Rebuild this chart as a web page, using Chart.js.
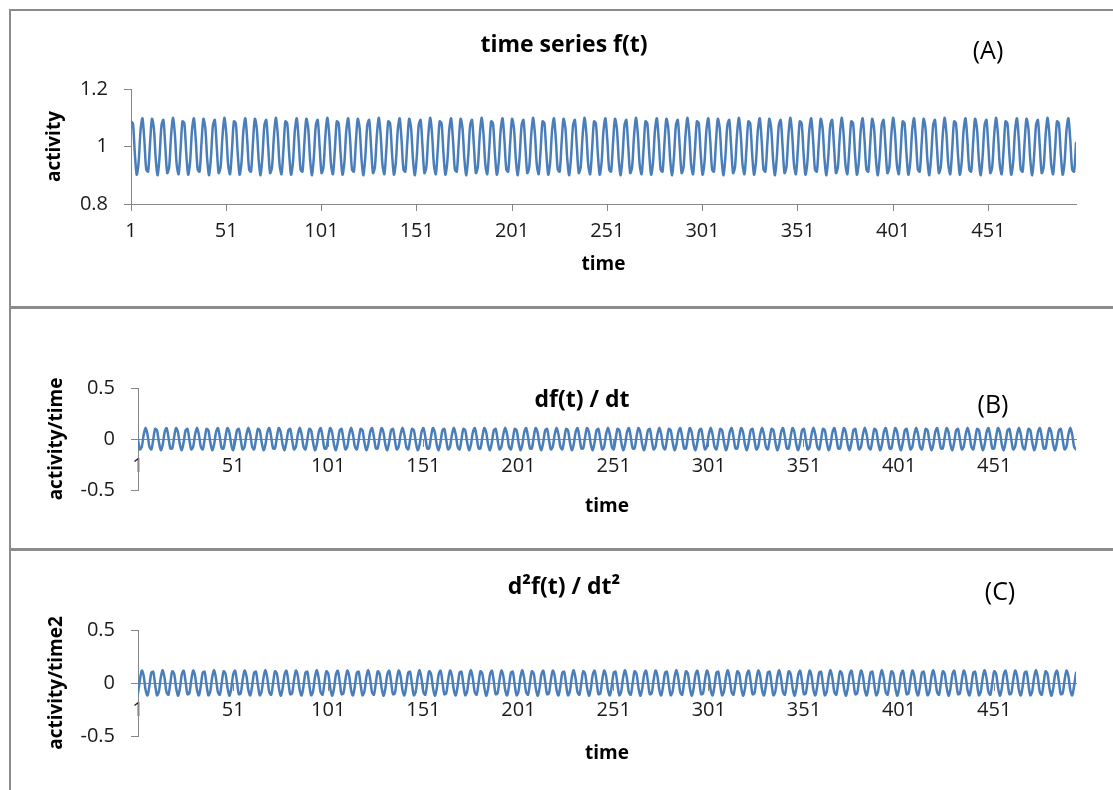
<!DOCTYPE html>
<html>
<head>
<meta charset="utf-8">
<script src="https://cdn.jsdelivr.net/npm/chart.js@4.4.1/dist/chart.umd.min.js"></script>
<style>
  body { margin: 0; background: #fff; overflow: hidden; width: 1113px; height: 790px; }
  .panel { position: absolute; left: 9px; width: 1120px; border-left: 2px solid #8c8c8c; background: #fff; }
  .panel canvas { display: block; }
  #pa { top: 9px; border-top: 2px solid #8c8c8c; }
  #pb { top: 306px; border-top: 3px solid #8c8c8c; }
  #pc { top: 548px; border-top: 3px solid #8c8c8c; }
</style>
</head>
<body>
<div class="panel" id="pa"><canvas id="chartA" width="1106" height="295"></canvas></div>
<div class="panel" id="pb"><canvas id="chartB" width="1106" height="239"></canvas></div>
<div class="panel" id="pc"><canvas id="chartC" width="1106" height="239"></canvas></div>
<script>
// f(t)
var activity = [
  1.087, 1.080, 0.977, 0.902, 0.945, 1.055, 1.098, 1.023, 0.920, 0.913, 1.012, 1.096, 1.064, 0.955, 0.900, 0.966, 1.073, 1.092, 1.000, 0.908, 0.927, 1.034, 1.100, 1.045, 0.936, 0.904, 0.988,
  1.087, 1.080, 0.977, 0.902, 0.945, 1.055, 1.098, 1.023, 0.920, 0.913, 1.012, 1.096, 1.064, 0.955, 0.900, 0.966, 1.073, 1.092, 1.000, 0.908, 0.927, 1.034, 1.100, 1.045, 0.936, 0.904, 0.988,
  1.087, 1.080, 0.977, 0.902, 0.945, 1.055, 1.098, 1.023, 0.920, 0.913, 1.012, 1.096, 1.064, 0.955, 0.900, 0.966, 1.073, 1.092, 1.000, 0.908, 0.927, 1.034, 1.100, 1.045, 0.936, 0.904, 0.988,
  1.087, 1.080, 0.977, 0.902, 0.945, 1.055, 1.098, 1.023, 0.920, 0.913, 1.012, 1.096, 1.064, 0.955, 0.900, 0.966, 1.073, 1.092, 1.000, 0.908, 0.927, 1.034, 1.100, 1.045, 0.936, 0.904, 0.988,
  1.087, 1.080, 0.977, 0.902, 0.945, 1.055, 1.098, 1.023, 0.920, 0.913, 1.012, 1.096, 1.064, 0.955, 0.900, 0.966, 1.073, 1.092, 1.000, 0.908, 0.927, 1.034, 1.100, 1.045, 0.936, 0.904, 0.988,
  1.087, 1.080, 0.977, 0.902, 0.945, 1.055, 1.098, 1.023, 0.920, 0.913, 1.012, 1.096, 1.064, 0.955, 0.900, 0.966, 1.073, 1.092, 1.000, 0.908, 0.927, 1.034, 1.100, 1.045, 0.936, 0.904, 0.988,
  1.087, 1.080, 0.977, 0.902, 0.945, 1.055, 1.098, 1.023, 0.920, 0.913, 1.012, 1.096, 1.064, 0.955, 0.900, 0.966, 1.073, 1.092, 1.000, 0.908, 0.927, 1.034, 1.100, 1.045, 0.936, 0.904, 0.988,
  1.087, 1.080, 0.977, 0.902, 0.945, 1.055, 1.098, 1.023, 0.920, 0.913, 1.012, 1.096, 1.064, 0.955, 0.900, 0.966, 1.073, 1.092, 1.000, 0.908, 0.927, 1.034, 1.100, 1.045, 0.936, 0.904, 0.988,
  1.087, 1.080, 0.977, 0.902, 0.945, 1.055, 1.098, 1.023, 0.920, 0.913, 1.012, 1.096, 1.064, 0.955, 0.900, 0.966, 1.073, 1.092, 1.000, 0.908, 0.927, 1.034, 1.100, 1.045, 0.936, 0.904, 0.988,
  1.087, 1.080, 0.977, 0.902, 0.945, 1.055, 1.098, 1.023, 0.920, 0.913, 1.012, 1.096, 1.064, 0.955, 0.900, 0.966, 1.073, 1.092, 1.000, 0.908, 0.927, 1.034, 1.100, 1.045, 0.936, 0.904, 0.988,
  1.087, 1.080, 0.977, 0.902, 0.945, 1.055, 1.098, 1.023, 0.920, 0.913, 1.012, 1.096, 1.064, 0.955, 0.900, 0.966, 1.073, 1.092, 1.000, 0.908, 0.927, 1.034, 1.100, 1.045, 0.936, 0.904, 0.988,
  1.087, 1.080, 0.977, 0.902, 0.945, 1.055, 1.098, 1.023, 0.920, 0.913, 1.012, 1.096, 1.064, 0.955, 0.900, 0.966, 1.073, 1.092, 1.000, 0.908, 0.927, 1.034, 1.100, 1.045, 0.936, 0.904, 0.988,
  1.087, 1.080, 0.977, 0.902, 0.945, 1.055, 1.098, 1.023, 0.920, 0.913, 1.012, 1.096, 1.064, 0.955, 0.900, 0.966, 1.073, 1.092, 1.000, 0.908, 0.927, 1.034, 1.100, 1.045, 0.936, 0.904, 0.988,
  1.087, 1.080, 0.977, 0.902, 0.945, 1.055, 1.098, 1.023, 0.920, 0.913, 1.012, 1.096, 1.064, 0.955, 0.900, 0.966, 1.073, 1.092, 1.000, 0.908, 0.927, 1.034, 1.100, 1.045, 0.936, 0.904, 0.988,
  1.087, 1.080, 0.977, 0.902, 0.945, 1.055, 1.098, 1.023, 0.920, 0.913, 1.012, 1.096, 1.064, 0.955, 0.900, 0.966, 1.073, 1.092, 1.000, 0.908, 0.927, 1.034, 1.100, 1.045, 0.936, 0.904, 0.988,
  1.087, 1.080, 0.977, 0.902, 0.945, 1.055, 1.098, 1.023, 0.920, 0.913, 1.012, 1.096, 1.064, 0.955, 0.900, 0.966, 1.073, 1.092, 1.000, 0.908, 0.927, 1.034, 1.100, 1.045, 0.936, 0.904, 0.988,
  1.087, 1.080, 0.977, 0.902, 0.945, 1.055, 1.098, 1.023, 0.920, 0.913, 1.012, 1.096, 1.064, 0.955, 0.900, 0.966, 1.073, 1.092, 1.000, 0.908, 0.927, 1.034, 1.100, 1.045, 0.936, 0.904, 0.988,
  1.087, 1.080, 0.977, 0.902, 0.945, 1.055, 1.098, 1.023, 0.920, 0.913, 1.012, 1.096, 1.064, 0.955, 0.900, 0.966, 1.073, 1.092, 1.000, 0.908, 0.927, 1.034, 1.100, 1.045, 0.936, 0.904, 0.988,
  1.087, 1.080, 0.977, 0.902, 0.945, 1.055, 1.098, 1.023, 0.920, 0.913, 1.012
];

// df(t)/dt
var activityRate = [
  -0.007, -0.103, -0.075, 0.043, 0.110, 0.043, -0.075, -0.103, -0.007, 0.099, 0.084, -0.032, -0.109, -0.055, 0.066, 0.107, 0.019, -0.092, -0.092, 0.019, 0.107, 0.066, -0.055, -0.109, -0.032, 0.084, 0.099,
  -0.007, -0.103, -0.075, 0.043, 0.110, 0.043, -0.075, -0.103, -0.007, 0.099, 0.084, -0.032, -0.109, -0.055, 0.066, 0.107, 0.019, -0.092, -0.092, 0.019, 0.107, 0.066, -0.055, -0.109, -0.032, 0.084, 0.099,
  -0.007, -0.103, -0.075, 0.043, 0.110, 0.043, -0.075, -0.103, -0.007, 0.099, 0.084, -0.032, -0.109, -0.055, 0.066, 0.107, 0.019, -0.092, -0.092, 0.019, 0.107, 0.066, -0.055, -0.109, -0.032, 0.084, 0.099,
  -0.007, -0.103, -0.075, 0.043, 0.110, 0.043, -0.075, -0.103, -0.007, 0.099, 0.084, -0.032, -0.109, -0.055, 0.066, 0.107, 0.019, -0.092, -0.092, 0.019, 0.107, 0.066, -0.055, -0.109, -0.032, 0.084, 0.099,
  -0.007, -0.103, -0.075, 0.043, 0.110, 0.043, -0.075, -0.103, -0.007, 0.099, 0.084, -0.032, -0.109, -0.055, 0.066, 0.107, 0.019, -0.092, -0.092, 0.019, 0.107, 0.066, -0.055, -0.109, -0.032, 0.084, 0.099,
  -0.007, -0.103, -0.075, 0.043, 0.110, 0.043, -0.075, -0.103, -0.007, 0.099, 0.084, -0.032, -0.109, -0.055, 0.066, 0.107, 0.019, -0.092, -0.092, 0.019, 0.107, 0.066, -0.055, -0.109, -0.032, 0.084, 0.099,
  -0.007, -0.103, -0.075, 0.043, 0.110, 0.043, -0.075, -0.103, -0.007, 0.099, 0.084, -0.032, -0.109, -0.055, 0.066, 0.107, 0.019, -0.092, -0.092, 0.019, 0.107, 0.066, -0.055, -0.109, -0.032, 0.084, 0.099,
  -0.007, -0.103, -0.075, 0.043, 0.110, 0.043, -0.075, -0.103, -0.007, 0.099, 0.084, -0.032, -0.109, -0.055, 0.066, 0.107, 0.019, -0.092, -0.092, 0.019, 0.107, 0.066, -0.055, -0.109, -0.032, 0.084, 0.099,
  -0.007, -0.103, -0.075, 0.043, 0.110, 0.043, -0.075, -0.103, -0.007, 0.099, 0.084, -0.032, -0.109, -0.055, 0.066, 0.107, 0.019, -0.092, -0.092, 0.019, 0.107, 0.066, -0.055, -0.109, -0.032, 0.084, 0.099,
  -0.007, -0.103, -0.075, 0.043, 0.110, 0.043, -0.075, -0.103, -0.007, 0.099, 0.084, -0.032, -0.109, -0.055, 0.066, 0.107, 0.019, -0.092, -0.092, 0.019, 0.107, 0.066, -0.055, -0.109, -0.032, 0.084, 0.099,
  -0.007, -0.103, -0.075, 0.043, 0.110, 0.043, -0.075, -0.103, -0.007, 0.099, 0.084, -0.032, -0.109, -0.055, 0.066, 0.107, 0.019, -0.092, -0.092, 0.019, 0.107, 0.066, -0.055, -0.109, -0.032, 0.084, 0.099,
  -0.007, -0.103, -0.075, 0.043, 0.110, 0.043, -0.075, -0.103, -0.007, 0.099, 0.084, -0.032, -0.109, -0.055, 0.066, 0.107, 0.019, -0.092, -0.092, 0.019, 0.107, 0.066, -0.055, -0.109, -0.032, 0.084, 0.099,
  -0.007, -0.103, -0.075, 0.043, 0.110, 0.043, -0.075, -0.103, -0.007, 0.099, 0.084, -0.032, -0.109, -0.055, 0.066, 0.107, 0.019, -0.092, -0.092, 0.019, 0.107, 0.066, -0.055, -0.109, -0.032, 0.084, 0.099,
  -0.007, -0.103, -0.075, 0.043, 0.110, 0.043, -0.075, -0.103, -0.007, 0.099, 0.084, -0.032, -0.109, -0.055, 0.066, 0.107, 0.019, -0.092, -0.092, 0.019, 0.107, 0.066, -0.055, -0.109, -0.032, 0.084, 0.099,
  -0.007, -0.103, -0.075, 0.043, 0.110, 0.043, -0.075, -0.103, -0.007, 0.099, 0.084, -0.032, -0.109, -0.055, 0.066, 0.107, 0.019, -0.092, -0.092, 0.019, 0.107, 0.066, -0.055, -0.109, -0.032, 0.084, 0.099,
  -0.007, -0.103, -0.075, 0.043, 0.110, 0.043, -0.075, -0.103, -0.007, 0.099, 0.084, -0.032, -0.109, -0.055, 0.066, 0.107, 0.019, -0.092, -0.092, 0.019, 0.107, 0.066, -0.055, -0.109, -0.032, 0.084, 0.099,
  -0.007, -0.103, -0.075, 0.043, 0.110, 0.043, -0.075, -0.103, -0.007, 0.099, 0.084, -0.032, -0.109, -0.055, 0.066, 0.107, 0.019, -0.092, -0.092, 0.019, 0.107, 0.066, -0.055, -0.109, -0.032, 0.084, 0.099,
  -0.007, -0.103, -0.075, 0.043, 0.110, 0.043, -0.075, -0.103, -0.007, 0.099, 0.084, -0.032, -0.109, -0.055, 0.066, 0.107, 0.019, -0.092, -0.092, 0.019, 0.107, 0.066, -0.055, -0.109, -0.032, 0.084, 0.099,
  -0.007, -0.103, -0.075, 0.043, 0.110, 0.043, -0.075, -0.103
];

// d2f(t)/dt2
var activityAccel = [
  -0.096, 0.028, 0.118, 0.067, -0.067, -0.118, -0.028, 0.096, 0.106, -0.015, -0.116, -0.077, 0.054, 0.121, 0.041, -0.088, -0.111, 0.000, 0.111, 0.088, -0.041, -0.121, -0.054, 0.077, 0.116, 0.015, -0.106,
  -0.096, 0.028, 0.118, 0.067, -0.067, -0.118, -0.028, 0.096, 0.106, -0.015, -0.116, -0.077, 0.054, 0.121, 0.041, -0.088, -0.111, 0.000, 0.111, 0.088, -0.041, -0.121, -0.054, 0.077, 0.116, 0.015, -0.106,
  -0.096, 0.028, 0.118, 0.067, -0.067, -0.118, -0.028, 0.096, 0.106, -0.015, -0.116, -0.077, 0.054, 0.121, 0.041, -0.088, -0.111, 0.000, 0.111, 0.088, -0.041, -0.121, -0.054, 0.077, 0.116, 0.015, -0.106,
  -0.096, 0.028, 0.118, 0.067, -0.067, -0.118, -0.028, 0.096, 0.106, -0.015, -0.116, -0.077, 0.054, 0.121, 0.041, -0.088, -0.111, 0.000, 0.111, 0.088, -0.041, -0.121, -0.054, 0.077, 0.116, 0.015, -0.106,
  -0.096, 0.028, 0.118, 0.067, -0.067, -0.118, -0.028, 0.096, 0.106, -0.015, -0.116, -0.077, 0.054, 0.121, 0.041, -0.088, -0.111, 0.000, 0.111, 0.088, -0.041, -0.121, -0.054, 0.077, 0.116, 0.015, -0.106,
  -0.096, 0.028, 0.118, 0.067, -0.067, -0.118, -0.028, 0.096, 0.106, -0.015, -0.116, -0.077, 0.054, 0.121, 0.041, -0.088, -0.111, 0.000, 0.111, 0.088, -0.041, -0.121, -0.054, 0.077, 0.116, 0.015, -0.106,
  -0.096, 0.028, 0.118, 0.067, -0.067, -0.118, -0.028, 0.096, 0.106, -0.015, -0.116, -0.077, 0.054, 0.121, 0.041, -0.088, -0.111, 0.000, 0.111, 0.088, -0.041, -0.121, -0.054, 0.077, 0.116, 0.015, -0.106,
  -0.096, 0.028, 0.118, 0.067, -0.067, -0.118, -0.028, 0.096, 0.106, -0.015, -0.116, -0.077, 0.054, 0.121, 0.041, -0.088, -0.111, 0.000, 0.111, 0.088, -0.041, -0.121, -0.054, 0.077, 0.116, 0.015, -0.106,
  -0.096, 0.028, 0.118, 0.067, -0.067, -0.118, -0.028, 0.096, 0.106, -0.015, -0.116, -0.077, 0.054, 0.121, 0.041, -0.088, -0.111, 0.000, 0.111, 0.088, -0.041, -0.121, -0.054, 0.077, 0.116, 0.015, -0.106,
  -0.096, 0.028, 0.118, 0.067, -0.067, -0.118, -0.028, 0.096, 0.106, -0.015, -0.116, -0.077, 0.054, 0.121, 0.041, -0.088, -0.111, 0.000, 0.111, 0.088, -0.041, -0.121, -0.054, 0.077, 0.116, 0.015, -0.106,
  -0.096, 0.028, 0.118, 0.067, -0.067, -0.118, -0.028, 0.096, 0.106, -0.015, -0.116, -0.077, 0.054, 0.121, 0.041, -0.088, -0.111, 0.000, 0.111, 0.088, -0.041, -0.121, -0.054, 0.077, 0.116, 0.015, -0.106,
  -0.096, 0.028, 0.118, 0.067, -0.067, -0.118, -0.028, 0.096, 0.106, -0.015, -0.116, -0.077, 0.054, 0.121, 0.041, -0.088, -0.111, 0.000, 0.111, 0.088, -0.041, -0.121, -0.054, 0.077, 0.116, 0.015, -0.106,
  -0.096, 0.028, 0.118, 0.067, -0.067, -0.118, -0.028, 0.096, 0.106, -0.015, -0.116, -0.077, 0.054, 0.121, 0.041, -0.088, -0.111, 0.000, 0.111, 0.088, -0.041, -0.121, -0.054, 0.077, 0.116, 0.015, -0.106,
  -0.096, 0.028, 0.118, 0.067, -0.067, -0.118, -0.028, 0.096, 0.106, -0.015, -0.116, -0.077, 0.054, 0.121, 0.041, -0.088, -0.111, 0.000, 0.111, 0.088, -0.041, -0.121, -0.054, 0.077, 0.116, 0.015, -0.106,
  -0.096, 0.028, 0.118, 0.067, -0.067, -0.118, -0.028, 0.096, 0.106, -0.015, -0.116, -0.077, 0.054, 0.121, 0.041, -0.088, -0.111, 0.000, 0.111, 0.088, -0.041, -0.121, -0.054, 0.077, 0.116, 0.015, -0.106,
  -0.096, 0.028, 0.118, 0.067, -0.067, -0.118, -0.028, 0.096, 0.106, -0.015, -0.116, -0.077, 0.054, 0.121, 0.041, -0.088, -0.111, 0.000, 0.111, 0.088, -0.041, -0.121, -0.054, 0.077, 0.116, 0.015, -0.106,
  -0.096, 0.028, 0.118, 0.067, -0.067, -0.118, -0.028, 0.096, 0.106, -0.015, -0.116, -0.077, 0.054, 0.121, 0.041, -0.088, -0.111, 0.000, 0.111, 0.088, -0.041, -0.121, -0.054, 0.077, 0.116, 0.015, -0.106,
  -0.096, 0.028, 0.118, 0.067, -0.067, -0.118, -0.028, 0.096, 0.106, -0.015, -0.116, -0.077, 0.054, 0.121, 0.041, -0.088, -0.111, 0.000, 0.111, 0.088, -0.041, -0.121, -0.054, 0.077, 0.116, 0.015, -0.106,
  -0.096, 0.028, 0.118, 0.067, -0.067, -0.118, -0.028, 0.096
];

var xTickValues = [1, 51, 101, 151, 201, 251, 301, 351, 401, 451];
var yTicksF = [0.8, 1, 1.2];
var yTicksD = [-0.5, 0, 0.5];

var lineBlue = '#4a7ebb';
var axisGrey = '#868686';
var fontFamily = '"Open Sans", sans-serif';

Chart.defaults.font.family = fontFamily;
Chart.defaults.color = '#1a1a1a';

// chart title and the (A)/(B)/(C) tag
var panelText = {
    id: 'panelText',
    afterDraw: function (chart, args, opts) {
        var ctx = chart.ctx;
        ctx.save();
        ctx.fillStyle = '#000';
        ctx.textAlign = 'center';
        ctx.textBaseline = 'middle';
        ctx.font = 'bold 23px ' + fontFamily;
        ctx.fillText(opts.title, opts.titleX, opts.titleY);
        ctx.font = '25px ' + fontFamily;
        ctx.fillText(opts.letter, opts.letterX, opts.letterY);
        ctx.restore();
    }
};

function makePanel(canvasId, series, cfg) {
    var time = series.map(function (v, i) { return i + 1; });
    return new Chart(document.getElementById(canvasId).getContext('2d'), {
        type: 'line',
        data: {
            labels: time,
            datasets: [{
                data: series,
                borderColor: lineBlue,
                borderWidth: 2.5,
                borderJoinStyle: 'round',
                borderCapStyle: 'round',
                pointRadius: 0,
                fill: false,
                tension: 0.3
            }]
        },
        options: {
            responsive: false,
            animation: false,
            layout: { padding: cfg.padding },
            plugins: {
                legend: { display: false },
                tooltip: { enabled: false },
                panelText: cfg.text
            },
            scales: {
                x: {
                    type: 'linear',
                    min: 1,
                    max: series.length,
                    position: cfg.xPosition,
                    afterBuildTicks: function (s) { s.ticks = xTickValues.map(function (v) { return { value: v }; }); },
                    afterFit: function (s) { s.height = cfg.xHeight; },
                    grid: { drawOnChartArea: false, tickLength: 7, color: axisGrey },
                    border: { color: axisGrey, width: 1 },
                    ticks: { font: { size: 20 }, padding: 8, maxRotation: 0, autoSkip: false, callback: function (v) { return String(v); } },
                    title: { display: true, text: 'time', color: '#000', font: { size: 19, weight: 'bold' }, padding: { top: 0, bottom: cfg.xTitlePad } }
                },
                y: {
                    min: cfg.yTicks[0],
                    max: cfg.yTicks[cfg.yTicks.length - 1],
                    afterBuildTicks: function (s) { s.ticks = cfg.yTicks.map(function (v) { return { value: v }; }); },
                    afterFit: function (s) { s.width = cfg.yWidth; },
                    grid: { drawOnChartArea: false, tickLength: 7, color: axisGrey },
                    border: { color: axisGrey, width: 1 },
                    ticks: { font: { size: 20 }, padding: 16, callback: function (v) { return String(v); } },
                    title: { display: true, text: cfg.yTitle, color: '#000', font: { size: 19, weight: 'bold' }, padding: { top: cfg.yTitlePad, bottom: 0 } }
                }
            }
        },
        plugins: [panelText]
    });
}

makePanel('chartA', activity, {
    padding: { left: 0, right: 41, top: 78, bottom: 0 },
    xPosition: 'bottom', xHeight: 102, xTitlePad: 29.6,
    yTicks: yTicksF, yWidth: 120, yTitle: 'activity', yTitlePad: 32.6,
    text: { title: 'time series f(t)', titleX: 553, titleY: 34, letter: '(A)', letterX: 977, letterY: 41 }
});

makePanel('chartB', activityRate, {
    padding: { left: 0, right: 41, top: 79, bottom: 58 },
    xPosition: { y: 0 }, xHeight: 79.4, xTitlePad: 0,
    yTicks: yTicksD, yWidth: 127, yTitle: 'activity/time', yTitlePad: 34.6,
    text: { title: 'df(t) / dt', titleX: 571, titleY: 91, letter: '(B)', letterX: 982, letterY: 97 }
});

makePanel('chartC', activityAccel, {
    padding: { left: 0, right: 41, top: 79, bottom: 54 },
    xPosition: { y: 0 }, xHeight: 82, xTitlePad: 0,
    yTicks: yTicksD, yWidth: 127, yTitle: 'activity/time2', yTitlePad: 34.6,
    text: { title: 'd\u00b2f(t) / dt\u00b2', titleX: 553, titleY: 36, letter: '(C)', letterX: 989, letterY: 42 }
});
</script>
</body>
</html>
